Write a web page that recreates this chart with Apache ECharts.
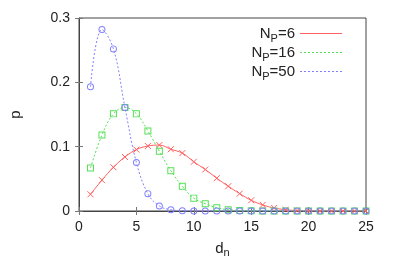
<!DOCTYPE html>
<html><head><meta charset="utf-8">
<script src="https://cdn.jsdelivr.net/npm/echarts@6/dist/echarts.min.js"></script>
<style>html,body{margin:0;padding:0;background:#fff}#c{width:393px;height:275px}</style>
</head><body><div id="c"></div>
<script>
const dn = [1,2,3,4,5,6,7,8,9,10,11,12,13,14,15,16,17,18,19,20,21,22,23,24,25];
const np6  = [0.026,0.048,0.068,0.084,0.0955,0.101,0.1025,0.096,0.090,0.0765,0.0645,0.051,0.0385,0.027,0.0167,0.0095,0.0047,0.002,0.0007,0.0002,0,0,0,0,0];
const np16 = [0.067,0.118,0.151,0.161,0.151,0.1245,0.093,0.0625,0.0385,0.020,0.0112,0.0052,0.002,0.0007,0.0002,0,0,0,0,0,0,0,0,0,0];
const np50 = [0.193,0.282,0.252,0.161,0.0753,0.027,0.0078,0.002,0.0004,0,0,0,0,0,0,0,0,0,0,0,0,0,0,0,0];
const names = ['6','16','50'];
const xTicks = [0,5,10,15,20,25];
const yTicks = [0,0.1,0.2,0.3];

const C = ['#ff6060','#55e055','#8080ff'];
const font = 'Liberation Sans, Arial, sans-serif';
function pairs(v){ return dn.map((x,i)=>[x,v[i]]); }
const xSym = 'path://M0,0L10,10M10,0L0,10';
const sqSym = 'path://M0,0L10,0L10,10L0,10Z M1.4,1.4L1.4,8.6L8.6,8.6L8.6,1.4Z';
const ciSym = 'path://M10,5A5,5 0 1,1 0,5A5,5 0 1,1 10,5Z M8.6,5A3.6,3.6 0 1,0 1.4,5A3.6,3.6 0 1,0 8.6,5Z';
const dashes = ['solid',[2,2],[2,2]];
// legend icons: thin solid bar / dotted bar
const solidIcon = 'path://M0,0H42V1H0Z';
let dotIcon = 'path://';
for (let s = 0; s < 42; s += 4) dotIcon += 'M' + s + ',0H' + (s + 2) + 'V1H' + s + 'Z';
const icons = [solidIcon, dotIcon, dotIcon];

const chart = echarts.init(document.getElementById('c'), null, {renderer:'canvas'});
chart.setOption({
  animation:false,
  backgroundColor:'#fff',
  grid:{left:74,right:27,top:18,bottom:64,show:true,borderColor:'#444',borderWidth:1},
  legend:{
    orient:'vertical', right:46, top:21, align:'right', itemWidth:42, itemHeight:14, itemGap:1,
    itemStyle:{borderWidth:0},
    data:names.map((n,i)=>({name:'NP='+n, icon:icons[i], itemStyle:{color:C[i],borderWidth:0}})),
    formatter:function(n){ return '{a|N}{s|P}{a|='+n.slice(3)+'}'; },
    textStyle:{fontFamily:font,color:'#222',rich:{
      a:{fontSize:15,fontFamily:font,color:'#222',verticalAlign:'bottom',lineHeight:15},
      s:{fontSize:11,fontFamily:font,color:'#222',verticalAlign:'bottom',lineHeight:11,padding:[0,0,-3,0]}
    }}
  },
  xAxis:[{
    type:'value',min:0,max:25,interval:5,position:'bottom',
    name:'{a|d}{s|n}',nameLocation:'middle',nameGap:30,
    nameTextStyle:{rich:{a:{fontSize:15,fontFamily:font,color:'#222'},s:{fontSize:11,fontFamily:font,color:'#222',padding:[0,0,-8,0]}}},
    axisLine:{show:true,lineStyle:{color:'#444'}},
    axisTick:{show:true,inside:true,length:4,lineStyle:{color:'#777'}},
    axisLabel:{fontSize:14,fontFamily:font,color:'#222',margin:9,formatter:v=>xTicks.includes(v)?String(v):''},
    splitLine:{show:false}
  },{
    type:'value',min:0,max:25,interval:5,position:'top',
    axisLine:{show:false},axisTick:{show:true,inside:true,length:4,lineStyle:{color:'#777'}},
    axisLabel:{show:false},splitLine:{show:false}
  }],
  yAxis:[{
    type:'value',min:0,max:0.3,interval:0.1,position:'left',
    name:'p',nameLocation:'middle',nameGap:56,nameRotate:90,
    nameTextStyle:{fontSize:15,fontFamily:font,color:'#222'},
    axisLine:{show:true,lineStyle:{color:'#444'}},
    axisTick:{show:true,inside:true,length:4,lineStyle:{color:'#777'}},
    axisLabel:{fontSize:14,fontFamily:font,color:'#222',margin:9,formatter:v=>{const r=Math.round(v*10)/10; return r===0?'0':r.toFixed(1);}},
    splitLine:{show:false}
  },{
    type:'value',min:0,max:0.3,interval:0.1,position:'right',
    axisLine:{show:false},axisTick:{show:true,inside:true,length:4,lineStyle:{color:'#777'}},
    axisLabel:{show:false},splitLine:{show:false}
  }],
  series:[
    {name:'NP=6',type:'line',color:C[0],data:pairs(np6),smooth:0.4,symbol:xSym,symbolSize:6,
     lineStyle:{color:C[0],width:1,type:dashes[0]},itemStyle:{color:C[0],borderColor:C[0],borderWidth:1}},
    {name:'NP=16',type:'line',color:C[1],data:pairs(np16),smooth:0.4,symbol:sqSym,symbolSize:7,
     lineStyle:{color:C[1],width:1,type:dashes[1]},itemStyle:{color:C[1],borderWidth:0}},
    {name:'NP=50',type:'line',color:C[2],data:pairs(np50),smooth:0.4,symbol:ciSym,symbolSize:7,
     lineStyle:{color:C[2],width:1,type:dashes[2]},itemStyle:{color:C[2],borderWidth:0}}
  ]
});
</script></body></html>
